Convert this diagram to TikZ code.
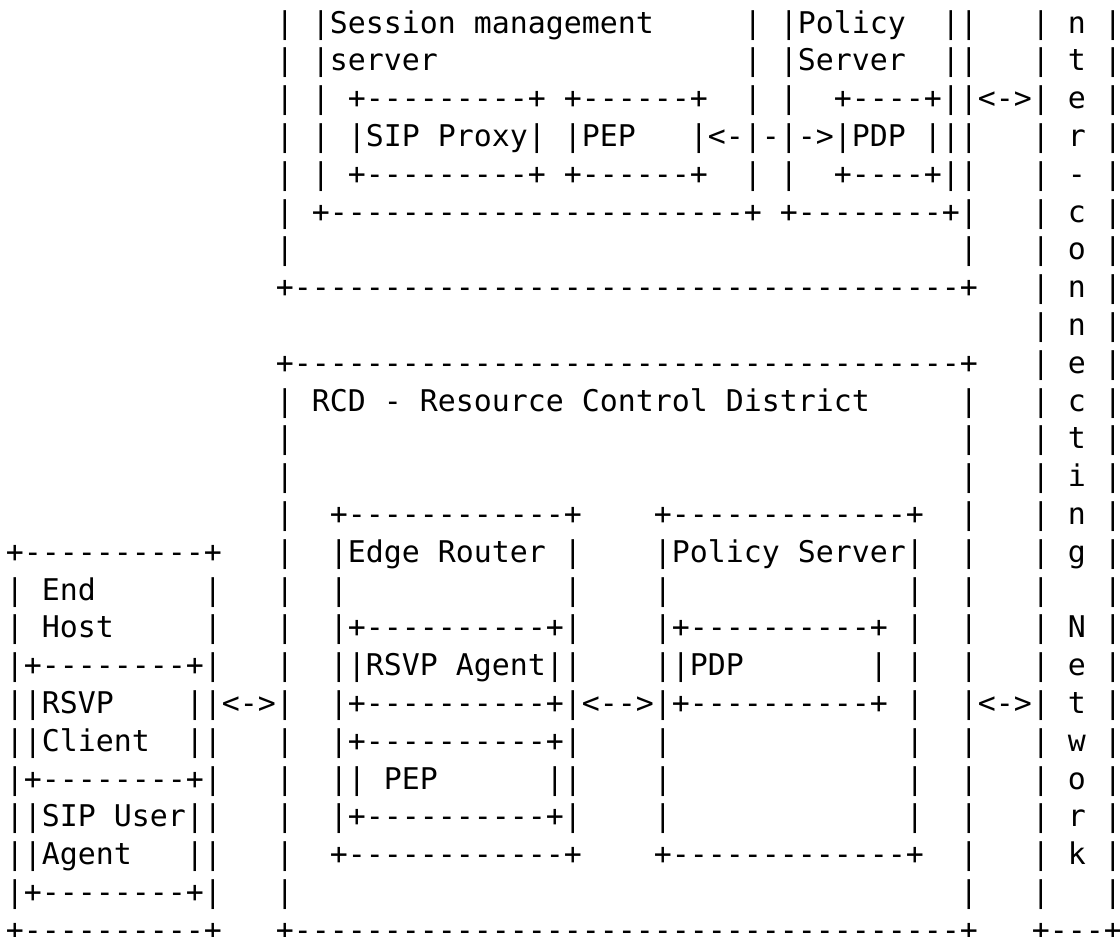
\documentclass[tikz,border=0pt]{standalone}
\usepackage{fontspec}
\setmonofont{DejaVu Sans Mono}
\usepackage{tikz}

% one macro per line of the figure, spaces kept as they are
\begingroup
\catcode`\ =\active%
\gdef {\ }%
\gdef\lnA{\null               | |Session management     | |Policy  ||   | n |}%
\gdef\lnB{\null               | |server                 | |Server  ||   | t |}%
\gdef\lnC{\null               | | +---------+ +------+  | |  +----+||<->| e |}%
\gdef\lnD{\null               | | |SIP Proxy| |PEP   |<-|-|->|PDP |||   | r |}%
\gdef\lnE{\null               | | +---------+ +------+  | |  +----+||   | - |}%
\gdef\lnF{\null               | +-----------------------+ +--------+|   | c |}%
\gdef\lnG{\null               |                                     |   | o |}%
\gdef\lnH{\null               +-------------------------------------+   | n |}%
\gdef\lnI{\null                                                         | n |}%
\gdef\lnJ{\null               +-------------------------------------+   | e |}%
\gdef\lnK{\null               | RCD - Resource Control District     |   | c |}%
\gdef\lnL{\null               |                                     |   | t |}%
\gdef\lnM{\null               |                                     |   | i |}%
\gdef\lnN{\null               |  +------------+    +-------------+  |   | n |}%
\gdef\lnO{\null+----------+   |  |Edge Router |    |Policy Server|  |   | g |}%
\gdef\lnP{\null| End      |   |  |            |    |             |  |   |   |}%
\gdef\lnQ{\null| Host     |   |  |+----------+|    |+----------+ |  |   | N |}%
\gdef\lnR{\null|+--------+|   |  ||RSVP Agent||    ||PDP       | |  |   | e |}%
\gdef\lnS{\null||RSVP    ||<->|  |+----------+|<-->|+----------+ |  |<->| t |}%
\gdef\lnT{\null||Client  ||   |  |+----------+|    |             |  |   | w |}%
\gdef\lnU{\null|+--------+|   |  || PEP      ||    |             |  |   | o |}%
\gdef\lnV{\null||SIP User||   |  |+----------+|    |             |  |   | r |}%
\gdef\lnW{\null||Agent   ||   |  +------------+    +-------------+  |   | k |}%
\gdef\lnX{\null|+--------+|   |                                     |   |   |}%
\gdef\lnY{\null+----------+   +-------------------------------------+   +---+}%
\endgroup

\begin{document}
\begin{tikzpicture}[x=6.0205pt, y=12.643pt,
  txtline/.style={anchor=base west, inner sep=0pt, outer sep=0pt, font=\ttfamily, text=black}]
\useasboundingbox (0,0) rectangle (62.222,-24.762);
\node[txtline] (ln0) at (0.333,-0.873) {\lnA};
\node[txtline] (ln1) at (0.333,-1.873) {\lnB};
\node[txtline] (ln2) at (0.333,-2.873) {\lnC};
\node[txtline] (ln3) at (0.333,-3.873) {\lnD};
\node[txtline] (ln4) at (0.333,-4.873) {\lnE};
\node[txtline] (ln5) at (0.333,-5.873) {\lnF};
\node[txtline] (ln6) at (0.333,-6.873) {\lnG};
\node[txtline] (ln7) at (0.333,-7.873) {\lnH};
\node[txtline] (ln8) at (0.333,-8.873) {\lnI};
\node[txtline] (ln9) at (0.333,-9.873) {\lnJ};
\node[txtline] (ln10) at (0.333,-10.873) {\lnK};
\node[txtline] (ln11) at (0.333,-11.873) {\lnL};
\node[txtline] (ln12) at (0.333,-12.873) {\lnM};
\node[txtline] (ln13) at (0.333,-13.873) {\lnN};
\node[txtline] (ln14) at (0.333,-14.873) {\lnO};
\node[txtline] (ln15) at (0.333,-15.873) {\lnP};
\node[txtline] (ln16) at (0.333,-16.873) {\lnQ};
\node[txtline] (ln17) at (0.333,-17.873) {\lnR};
\node[txtline] (ln18) at (0.333,-18.873) {\lnS};
\node[txtline] (ln19) at (0.333,-19.873) {\lnT};
\node[txtline] (ln20) at (0.333,-20.873) {\lnU};
\node[txtline] (ln21) at (0.333,-21.873) {\lnV};
\node[txtline] (ln22) at (0.333,-22.873) {\lnW};
\node[txtline] (ln23) at (0.333,-23.873) {\lnX};
\node[txtline] (ln24) at (0.333,-24.873) {\lnY};
\end{tikzpicture}
\end{document}
